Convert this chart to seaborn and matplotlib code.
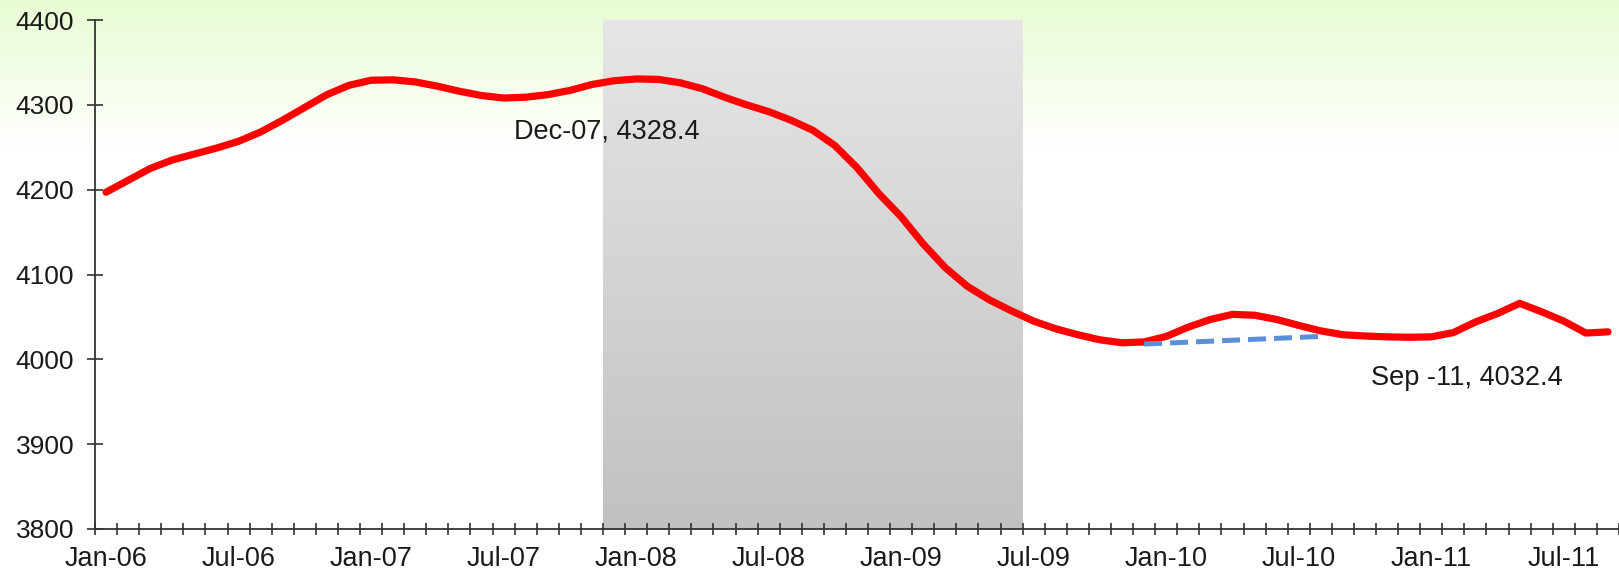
import numpy as np
import pandas as pd
import matplotlib
matplotlib.use("Agg")
import matplotlib.pyplot as plt
import seaborn as sns
from matplotlib.colors import LinearSegmentedColormap

# DATA
months = list(pd.date_range("2006-01-01", periods=69, freq="MS").strftime("%b-%y"))
jobs = [
    4197, 4211, 4225, 4235, 4242, 4249, 4257, 4268, 4282, 4297, 4312, 4323,
    4329, 4329.5, 4327, 4322, 4316, 4311, 4308, 4309, 4312, 4317, 4324, 4328.4,
    4330.5, 4330, 4326, 4319, 4309, 4300, 4292, 4282, 4270, 4252, 4226, 4195,
    4168, 4136, 4108, 4086, 4070, 4057, 4045, 4036, 4029, 4023, 4019.5, 4020.5,
    4027, 4038, 4047, 4053, 4052, 4047, 4040, 4033.5, 4029, 4027.5, 4026.5, 4026,
    4026.5, 4031.5, 4044, 4054, 4066, 4056, 4045, 4031, 4032.4,
]
trend_months = ["Dec-09", "Aug-10"]
trend_values = [4018, 4027]
recession = ["Dec-07", "Jun-09"]
label_months = ["Jan-06", "Jul-06", "Jan-07", "Jul-07", "Jan-08", "Jul-08",
                "Jan-09", "Jul-09", "Jan-10", "Jul-10", "Jan-11", "Jul-11"]
y_ticks = [3800, 3900, 4000, 4100, 4200, 4300, 4400]
notes = ["Dec-07, 4328.4", "Sep -11, 4032.4"]

sns.set_style("ticks")
plt.rcParams["font.family"] = ["Liberation Sans", "DejaVu Sans"]

df = pd.DataFrame({"month": months, "jobs": jobs})
df["pos"] = range(len(df))
trend = pd.DataFrame({"pos": [months.index(m) for m in trend_months], "jobs": trend_values})

fig = plt.figure(figsize=(16.19, 5.71), dpi=100)

# background: light green fading to white near the top
bg = fig.add_axes([0, 0, 1, 1], zorder=-1)
rows = np.ones((571, 1, 3))
top = np.array([232, 252, 210]) / 255.0
fade = 150
for r in range(fade):
    t = r / fade
    rows[r, 0] = top * (1 - t) + np.ones(3) * t
bg.imshow(rows, extent=[0, 1, 0, 1], aspect="auto", origin="upper")
bg.set_xlim(0, 1)
bg.set_ylim(0, 1)
bg.axis("off")

ax = fig.add_axes([95 / 1619, 1 - 529 / 571, 1 - 95 / 1619, (529 - 20) / 571])
ax.set_facecolor("none")

# recession band with vertical gradient
gray = LinearSegmentedColormap.from_list("rec", ["#c1c1c1", "#e6e6e6"])
r0 = months.index(recession[0]) - 0.5
r1 = months.index(recession[1]) + 0.5
ax.imshow(np.linspace(0, 1, 256).reshape(-1, 1), cmap=gray, origin="lower",
          extent=[r0, r1, 3800, 4400], aspect="auto", zorder=0)

sns.lineplot(data=df, x="pos", y="jobs", color="#ff0000", linewidth=5.2,
             ax=ax, zorder=3)
sns.lineplot(data=trend, x="pos", y="jobs", color="#5b8fd8", linewidth=3.6,
             ax=ax, zorder=4, linestyle=(0, (3.6, 1.6)))

ax.text(months.index("Dec-07") - 4.55, 4269, notes[0], fontsize=19.5,
        color="#1a1a1a", ha="left", va="center")
ax.text(months.index("Sep-11") - 10.75, 3978, notes[1], fontsize=19.5,
        color="#1a1a1a", ha="left", va="center")

ax.set_xlim(-0.5, 68.46)
ax.set_ylim(3800, 4400)
ax.set_yticks(y_ticks)
ax.set_yticklabels([str(v) for v in y_ticks], fontsize=19, color="#1a1a1a")
ax.set_xticks([months.index(m) for m in label_months])
ax.set_xticklabels(label_months, fontsize=19.5, color="#1a1a1a")
ax.set_xticks(np.arange(-0.5, 69.5, 1.0), minor=True)
ax.tick_params(axis="x", which="major", length=0, pad=12)
ax.tick_params(axis="x", which="minor", direction="inout", length=9,
               width=1.2, color="#333333")
ax.tick_params(axis="y", which="major", direction="inout", length=12,
               width=1.2, color="#333333", pad=9)
ax.set_xlabel("")
ax.set_ylabel("")
for side in ["top", "right"]:
    ax.spines[side].set_visible(False)
for side in ["left", "bottom"]:
    ax.spines[side].set_color("#333333")
    ax.spines[side].set_linewidth(1.3)

fig.savefig("out.png", dpi=100)
